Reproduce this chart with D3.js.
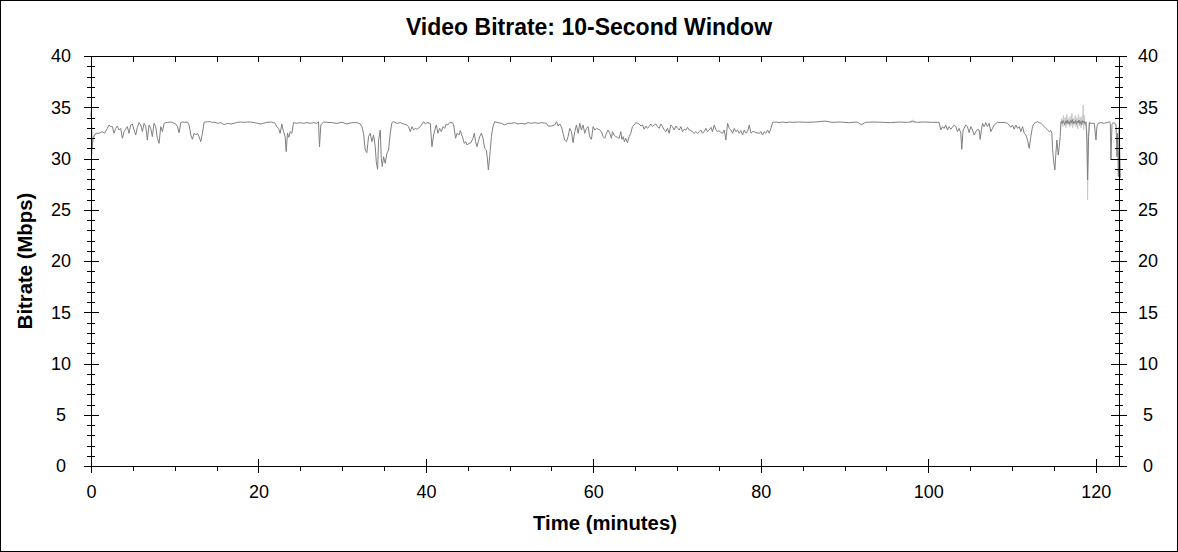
<!DOCTYPE html>
<html><head><meta charset="utf-8">
<script src="https://cdn.jsdelivr.net/npm/d3@7/dist/d3.min.js"></script>
<style>
html,body{margin:0;padding:0;background:#fff;}
svg{display:block;font-family:"Liberation Sans",Arial,sans-serif;}
</style></head>
<body>
<svg id="chart" width="1178" height="552"></svg>
<script>
// ---- data ----
const chartTitle = "Video Bitrate: 10-Second Window";
const xLabel = "Time (minutes)";
const yLabel = "Bitrate (Mbps)";
const xMajorTicks = [0, 20, 40, 60, 80, 100, 120];
const yMajorTicks = [0, 5, 10, 15, 20, 25, 30, 35, 40];

// main 10-second window bitrate (dark line)
const timeMin = [
0.00,0.05,0.12,0.25,0.56,0.96,1.35,1.63,1.95,2.15,2.35,2.55,2.75,2.95,3.15,3.35,3.55,3.75,3.95,4.14,
4.34,4.54,4.74,4.94,5.14,5.34,5.54,5.74,5.94,6.14,6.34,6.54,6.73,6.93,7.13,7.33,7.53,7.73,7.93,8.13,
8.33,8.53,8.73,8.93,9.13,9.45,9.72,9.92,10.12,10.32,10.52,10.72,10.92,11.2,11.52,11.72,11.92,12.11,12.31,12.51,
12.71,12.91,13.11,13.31,13.51,13.9,14.31,14.51,14.70,15.10,15.50,15.90,16.30,16.70,17.10,17.49,17.89,18.3,18.7,19.09,
19.49,19.89,20.28,20.60,21.00,21.59,21.99,22.19,22.39,22.59,22.79,22.99,23.19,23.31,23.47,23.63,23.79,23.99,24.19,24.58,
24.98,25.38,25.78,26.18,26.58,26.97,27.17,27.29,27.45,27.77,28.17,28.77,29.37,29.96,30.56,31.16,31.76,32.16,32.35,32.55,
32.75,32.95,33.15,33.35,33.55,33.75,33.95,34.07,34.23,34.35,34.55,34.67,34.79,34.94,35.14,35.34,35.54,35.74,35.94,36.14,
36.54,36.94,37.34,37.73,37.93,38.13,38.33,38.53,38.73,38.93,39.33,39.73,39.93,40.13,40.52,40.72,40.92,41.12,41.24,41.44,
41.64,41.84,42.04,42.24,42.44,42.63,42.83,43.15,43.31,43.55,43.71,43.95,44.11,44.35,44.59,44.75,44.91,45.15,45.38,45.62,
45.78,45.94,46.10,46.26,46.42,46.62,46.82,47.02,47.22,47.34,47.46,47.62,47.82,48.01,48.21,48.61,49.01,49.41,49.81,50.21,
50.60,51.00,51.40,51.80,52.20,52.60,53.00,53.39,53.79,54.39,54.59,54.99,55.39,55.59,55.79,55.98,56.18,56.38,56.58,56.78,
56.98,57.18,57.38,57.58,57.78,57.98,58.18,58.38,58.57,58.77,58.97,59.17,59.37,59.57,59.77,59.97,60.17,60.37,60.57,60.77,
60.97,61.17,61.36,61.56,61.76,61.96,62.16,62.28,62.48,62.68,62.88,63.08,63.28,63.40,63.56,63.71,63.87,64.07,64.27,64.47,
64.67,64.87,65.07,65.27,65.47,65.67,65.87,66.07,66.27,66.46,66.66,66.86,67.06,67.26,67.46,67.66,67.86,68.06,68.26,68.46,
68.66,68.86,69.05,69.25,69.45,69.65,69.85,70.05,70.25,70.45,70.65,70.85,71.05,71.25,71.45,71.64,71.84,72.04,72.24,72.44,
72.64,72.84,73.04,73.24,73.44,73.64,73.84,74.04,74.23,74.43,74.63,74.83,75.03,75.23,75.43,75.63,75.83,76.03,76.23,76.43,
76.63,76.83,77.02,77.22,77.42,77.62,77.82,78.02,78.22,78.42,78.62,78.82,79.02,79.22,79.42,79.81,80.01,80.21,80.41,80.61,
80.81,81.01,81.21,81.41,81.81,82.21,82.60,83.00,83.40,83.80,84.5,85.5,86.5,87.7,88.5,89.5,90.5,91.5,92.0,92.5,
93.5,94.5,95.5,96.5,97.5,98.1,98.7,99.5,100.5,101.29,101.49,101.69,101.89,102.09,102.29,102.49,102.69,103.09,103.29,103.49,
103.69,103.89,104.00,104.16,104.28,104.48,104.68,104.88,105.08,105.28,105.48,105.68,105.88,106.08,106.20,106.36,106.48,106.67,106.87,107.07,
107.27,107.47,107.67,107.87,108.27,108.67,109.07,109.46,109.86,110.06,110.26,110.46,110.66,110.86,111.06,111.26,111.46,111.66,111.86,112.05,
112.25,112.45,112.65,112.85,113.05,113.25,113.45,113.65,113.85,114.05,114.25,114.45,114.64,114.76,114.84,114.96,115.12,115.24,115.36,115.52,
115.64,115.76,115.84,115.9,116.0,116.1,116.2,116.3,116.4,116.5,116.6,116.7,116.8,116.9,117.0,117.1,117.2,117.3,117.4,117.5,
117.6,117.7,117.8,117.9,118.0,118.1,118.2,118.3,118.4,118.5,118.6,118.7,118.83,118.95,119.03,119.15,119.27,119.43,119.83,120.03,
120.14,120.30,120.62,121.02,121.42,121.62,121.74,121.82,121.94,122.02,122.22,122.42,122.54,122.62,122.70,122.81,122.93
];
const bitrateMbps = [
34.1,34.6,31.0,32.0,32.46,32.46,32.62,32.46,32.94,33.27,33.11,33.11,32.46,32.94,33.17,32.78,32.94,31.97,32.62,32.85,
33.11,32.46,33.27,33.37,32.78,32.29,33.04,33.50,33.27,32.62,33.43,33.11,31.80,33.27,32.94,32.13,33.43,33.11,31.97,31.48,
33.11,32.62,33.43,33.50,33.53,33.56,33.53,33.43,33.37,33.11,32.52,33.50,33.56,33.53,33.56,33.27,32.29,31.87,32.46,32.29,
32.46,32.13,31.64,32.46,33.53,33.59,33.59,33.50,33.56,33.43,33.50,33.30,33.43,33.37,33.43,33.53,33.56,33.53,33.56,33.56,
33.50,33.43,33.37,33.43,33.53,33.56,33.43,33.11,32.94,32.46,33.37,32.62,32.13,30.67,32.46,32.07,32.62,32.46,33.50,33.43,
33.50,33.43,33.50,33.43,33.50,33.43,33.59,31.15,33.27,33.56,33.53,33.50,33.43,33.53,33.37,33.50,33.50,33.37,33.11,32.46,
30.83,30.57,32.13,32.46,31.64,32.29,31.15,29.69,28.95,31.80,32.78,30.02,29.20,30.18,29.53,30.50,30.83,32.46,33.50,33.59,
33.43,33.50,33.37,33.27,33.11,32.62,33.11,32.78,32.94,32.85,33.11,33.59,33.37,33.50,33.43,31.15,32.29,32.94,33.27,32.46,
32.94,32.62,33.11,32.94,33.37,33.27,33.50,33.50,33.27,31.97,32.46,32.29,32.72,32.13,31.48,31.64,31.32,31.48,31.54,31.97,
32.46,31.64,31.15,31.64,32.13,32.46,31.97,30.99,30.83,30.02,28.88,30.18,32.13,33.11,33.59,33.50,33.43,33.27,33.43,33.43,
33.50,33.37,33.43,33.37,33.50,33.43,33.50,33.43,33.50,33.43,33.17,33.17,33.27,33.59,33.17,33.37,33.11,32.46,31.80,31.64,
32.13,32.94,32.62,31.54,32.62,33.27,32.46,33.43,32.78,33.27,32.46,32.94,33.11,32.13,31.87,33.11,32.78,32.94,32.85,32.78,
32.62,32.13,31.97,32.46,32.78,32.46,31.97,32.62,32.29,32.13,32.07,31.97,32.62,31.87,32.13,31.64,31.97,31.54,32.13,32.46,
33.11,33.27,33.50,33.43,33.37,33.17,33.27,32.85,33.17,32.94,33.11,33.37,33.11,33.27,33.37,33.11,32.94,33.37,33.11,32.78,
32.62,32.94,32.46,33.27,33.11,32.78,33.17,32.94,32.78,33.11,32.62,32.85,32.78,33.04,32.78,32.72,32.62,32.46,32.62,32.46,
32.62,32.78,32.46,32.62,32.94,32.62,32.78,33.04,32.62,33.27,32.85,32.62,32.72,32.52,32.46,32.78,31.80,33.43,32.94,32.78,
32.46,32.94,32.62,32.78,32.46,32.72,32.29,32.78,32.46,32.62,33.27,32.46,32.62,32.62,32.52,32.46,32.62,32.29,32.62,32.46,
32.78,32.46,32.94,33.53,33.56,33.50,33.56,33.50,33.56,33.53,33.56,33.53,33.56,33.65,33.53,33.56,33.50,33.56,33.30,33.53,
33.56,33.53,33.50,33.56,33.53,33.59,33.53,33.56,33.53,33.53,32.78,33.11,32.94,33.27,32.78,33.11,32.85,33.27,33.11,32.62,
32.94,32.46,30.89,32.78,32.94,33.27,33.11,32.52,33.11,32.78,32.29,32.62,32.85,32.78,31.87,32.85,33.43,33.11,33.50,33.11,
33.43,32.62,32.94,33.27,33.53,33.50,33.53,33.43,33.04,33.27,32.85,33.27,32.94,33.11,32.62,33.11,32.46,32.29,31.80,30.99,
32.13,33.11,33.43,33.53,33.59,33.50,33.43,33.27,33.11,32.94,32.78,32.62,32.72,32.46,30.99,29.85,28.88,30.50,31.80,30.34,
31.15,32.13,33.53,33.6,33.4,33.7,33.5,33.3,33.65,33.45,33.75,33.4,33.6,33.35,33.7,33.5,33.8,33.4,33.6,33.45,
33.7,33.35,33.65,33.5,33.75,33.4,33.6,33.3,33.7,33.5,33.65,33.4,33.53,31.80,27.90,32.13,33.53,33.43,33.43,31.80,
33.11,33.43,33.50,33.43,33.53,33.59,33.43,29.85,33.30,33.43,33.50,33.27,30.18,32.46,28.23,33.11,28.10
];

// light grey companion trace, visible only where it departs from the main line (null = gap)
const peakTime = [0.00,0.05,0.10,0.20,0.40,null,97.8,98.0,98.2,98.4,null,
115.85,115.95,116.05,116.15,116.25,116.35,116.45,116.55,116.65,116.75,116.85,116.95,117.05,117.15,117.25,117.35,117.45,117.55,117.65,117.75,
117.85,117.95,118.05,118.15,118.25,118.35,118.45,118.5,118.55,118.65,118.75,118.85,118.95,119.03,119.1,119.2];
const peakMbps = [34.1,34.75,30.3,31.5,32.4,null,33.53,33.7,33.75,33.55,null,
33.5,33.9,33.1,34.2,33.2,34.0,33.0,34.3,33.3,33.9,33.1,34.1,33.2,34.4,33.0,33.9,33.3,34.2,33.1,34.0,
32.9,34.3,33.2,34.0,33.0,34.1,33.3,35.2,32.8,34.2,33.2,33.6,32.5,25.95,31.5,33.5];

// ---- drawing ----
const W = 1178, H = 552;
const svg = d3.select("#chart");
svg.append("rect").attr("x",0).attr("y",0).attr("width",W).attr("height",H).attr("fill","#fff");
svg.append("rect").attr("x",0.5).attr("y",0.5).attr("width",W-1).attr("height",H-1)
  .attr("fill","none").attr("stroke","#000").attr("stroke-width",1);

const L = 91, R = 1119, T = 56, B = 466;
const x = d3.scaleLinear().domain([0, 122.78]).range([L, R]);
const y = d3.scaleLinear().domain([0, 40]).range([B, T]);

const xMinor = d3.range(0, 123, 5).filter(v => v % 20 !== 0);
const xTop = d3.range(5, 123, 5);
const yMinor = d3.range(0, 41, 1).filter(v => v % 5 !== 0);

const fontSize = "18px";
function clean(g){ g.select(".domain").remove(); g.selectAll("line").attr("stroke","#000").attr("shape-rendering","crispEdges"); }

// traces
const peakPts = peakTime.map((t,i)=>[t, peakMbps[i]]);
const mainPts = timeMin.map((t,i)=>[t, bitrateMbps[i]]);
const line = d3.line().defined(d => d[0] != null && d[1] != null).x(d => x(d[0])).y(d => y(d[1]));
svg.append("path").datum(peakPts).attr("d", line).attr("fill","none").attr("stroke","#c8c8c8").attr("stroke-width",1);
svg.append("path").datum(mainPts).attr("d", line).attr("fill","none").attr("stroke","#808080").attr("stroke-width",1);

// frame
svg.append("rect").attr("x",L).attr("y",T).attr("width",R-L).attr("height",B-T)
  .attr("fill","none").attr("stroke","#000").attr("stroke-width",1).attr("shape-rendering","crispEdges");

// left axis
const gl = svg.append("g").attr("transform",`translate(${L},0)`);
gl.call(d3.axisLeft(y).tickValues(yMajorTicks).tickSize(7).tickPadding(0)).call(clean);
gl.selectAll("text").attr("x",-30).attr("text-anchor","middle").attr("font-size",fontSize).attr("font-family","Liberation Sans, Arial, sans-serif").attr("fill","#000");
svg.append("g").attr("transform",`translate(${L},0)`).call(d3.axisRight(y).tickValues(yMajorTicks).tickSize(8).tickFormat("")).call(clean);
svg.append("g").attr("transform",`translate(${L},0)`).call(d3.axisLeft(y).tickValues(yMinor).tickSize(4).tickFormat("")).call(clean);
svg.append("g").attr("transform",`translate(${L},0)`).call(d3.axisRight(y).tickValues(yMinor).tickSize(4).tickFormat("")).call(clean);

// right axis
const gr = svg.append("g").attr("transform",`translate(${R},0)`);
gr.call(d3.axisRight(y).tickValues(yMajorTicks).tickSize(8).tickPadding(0)).call(clean);
gr.selectAll("text").attr("x",29).attr("text-anchor","middle").attr("font-size",fontSize).attr("font-family","Liberation Sans, Arial, sans-serif").attr("fill","#000");
svg.append("g").attr("transform",`translate(${R},0)`).call(d3.axisLeft(y).tickValues(yMajorTicks).tickSize(8).tickFormat("")).call(clean);
svg.append("g").attr("transform",`translate(${R},0)`).call(d3.axisLeft(y).tickValues(yMinor).tickSize(4).tickFormat("")).call(clean);
svg.append("g").attr("transform",`translate(${R},0)`).call(d3.axisRight(y).tickValues(yMinor).tickSize(4).tickFormat("")).call(clean);

// bottom axis
const gb = svg.append("g").attr("transform",`translate(0,${B})`);
gb.call(d3.axisBottom(x).tickValues(xMajorTicks).tickSize(7).tickPadding(12)).call(clean);
gb.selectAll("text").attr("font-size",fontSize).attr("font-family","Liberation Sans, Arial, sans-serif").attr("fill","#000");
svg.append("g").attr("transform",`translate(0,${B})`).call(d3.axisTop(x).tickValues(xMajorTicks).tickSize(7).tickFormat("")).call(clean);
svg.append("g").attr("transform",`translate(0,${B})`).call(d3.axisBottom(x).tickValues(xMinor).tickSize(5).tickFormat("")).call(clean);

// top ticks
svg.append("g").attr("transform",`translate(0,${T})`).call(d3.axisBottom(x).tickValues(xTop).tickSize(6).tickFormat("")).call(clean);

// titles
svg.append("text").attr("x",589).attr("y",35).attr("text-anchor","middle")
  .attr("font-size","23px").attr("font-weight","bold").text(chartTitle);
svg.append("text").attr("x",(L+R)/2).attr("y",530).attr("text-anchor","middle")
  .attr("font-size","20.3px").attr("font-weight","bold").text(xLabel);
svg.append("text").attr("transform",`translate(32,${(T+B)/2}) rotate(-90)`).attr("text-anchor","middle")
  .attr("font-size","20.3px").attr("font-weight","bold").text(yLabel);
</script>
</body></html>
